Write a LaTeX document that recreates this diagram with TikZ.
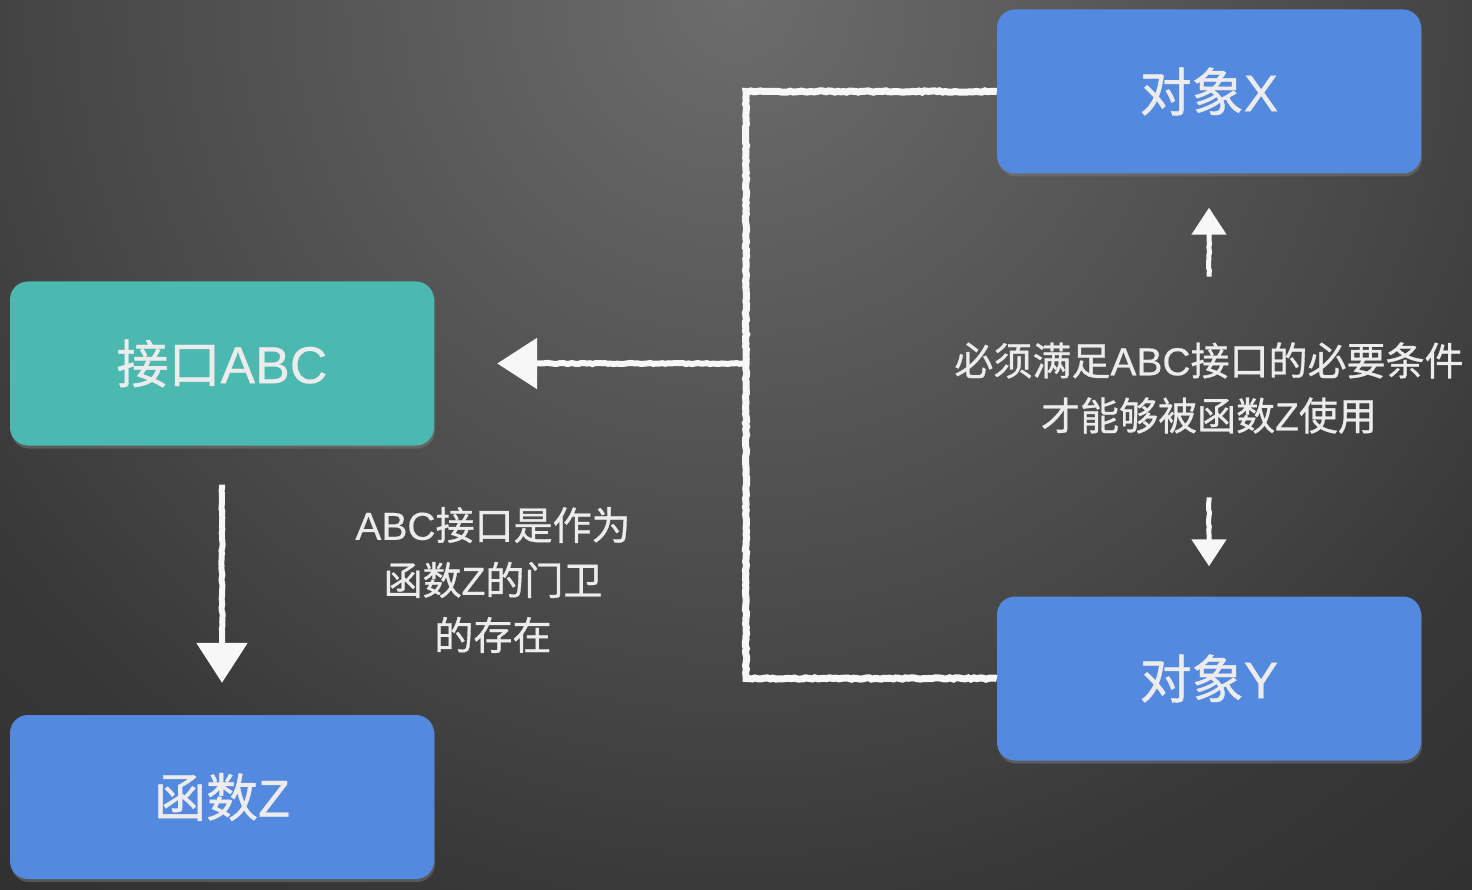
\documentclass[tikz,border=0pt]{standalone}
\usepackage{fontspec}
\setmainfont{Noto Sans CJK SC}[UprightFeatures={FakeBold=0.8}]
\newfontfamily\lat{Liberation Sans}[UprightFeatures={FakeBold=0.4}]
\usetikzlibrary{arrows.meta,decorations.pathmorphing,shadows,calc}
\definecolor{bgIn}{HTML}{6C6C6C}
\definecolor{bgA}{HTML}{474747}
\definecolor{bgB}{HTML}{383838}
\definecolor{bgOut}{HTML}{282828}
\definecolor{boxBlue}{HTML}{5389DF}
\definecolor{boxTeal}{HTML}{4BB9B0}
\definecolor{txtGray}{HTML}{ECECEC}
\definecolor{chalk}{HTML}{F7F7F7}
\pgfdeclareradialshading{bgshade}{\pgfpoint{0bp}{0bp}}{color(0bp)=(bgIn); color(14bp)=(bgA); color(19bp)=(bgB); color(30bp)=(bgOut); color(50bp)=(bgOut)}
\tikzset{
  box/.style={rounded corners=18pt, minimum width=424pt, minimum height=164pt,
    text=txtGray, font=\fontsize{52}{58}\selectfont, inner sep=0pt,
    drop shadow={opacity=0.45, shadow xshift=1pt, shadow yshift=-3pt}},
  bluebox/.style={box, fill=boxBlue},
  tealbox/.style={box, fill=boxTeal},
  lbl/.style={text=txtGray, align=center, font=\fontsize{39}{55}\selectfont, inner sep=0pt},
  chalkline/.style={draw=chalk, line width=7pt,
    decoration={random steps, segment length=3pt, amplitude=0.7pt}, decorate},
  bigarr/.style={draw=chalk, line width=6pt,
    decoration={random steps, segment length=3pt, amplitude=0.6pt, post length=46pt, pre length=3pt}, decorate,
    -{Triangle[length=40pt,width=50pt]}},
  smallarr/.style={draw=chalk, line width=5pt,
    decoration={random steps, segment length=3pt, amplitude=0.5pt, post length=32pt, pre length=3pt}, decorate,
    -{Triangle[length=27pt,width=34pt]}}
}
\begin{document}
\begin{tikzpicture}[x=1pt,y=-1pt]
\useasboundingbox (0,0) rectangle (1472,890);
\begin{scope}
\clip (0,0) rectangle (1472,890);
\shade[shading=bgshade] (736,0) circle (1200);
\end{scope}
% boxes
\node[tealbox] (abc) at (222,363.5) {接口{\lat ABC}};
\node[bluebox] (fz) at (222,797) {函数{\lat Z}};
\node[bluebox] (ox) at (1209,91.5) {对象{\lat X}};
\node[bluebox] (oy) at (1209,678.5) {对象{\lat Y}};
% labels
\node[lbl] (req) at (1209,388) {必须满足{\lat ABC}接口的必要条件\\才能够被函数{\lat Z}使用};
\node[lbl] (gate) at (493,580) {{\lat ABC}接口是作为\\函数{\lat Z}的门卫\\的存在};
% connectors
\coordinate (jm) at (746,363.5);
\draw[chalkline] (ox.west) -| (jm) |- (oy.west);
\draw[bigarr] (jm) -- ($(abc.east)+(63,0)$);
\draw[bigarr] ($(abc.south)+(0,39)$) -- ($(fz.north)+(0,-32)$);
\draw[smallarr] ($(ox.south)+(0,103)$) -- ($(ox.south)+(0,34)$);
\draw[smallarr] ($(oy.north)+(0,-99)$) -- ($(oy.north)+(0,-30)$);
\end{tikzpicture}
\end{document}
